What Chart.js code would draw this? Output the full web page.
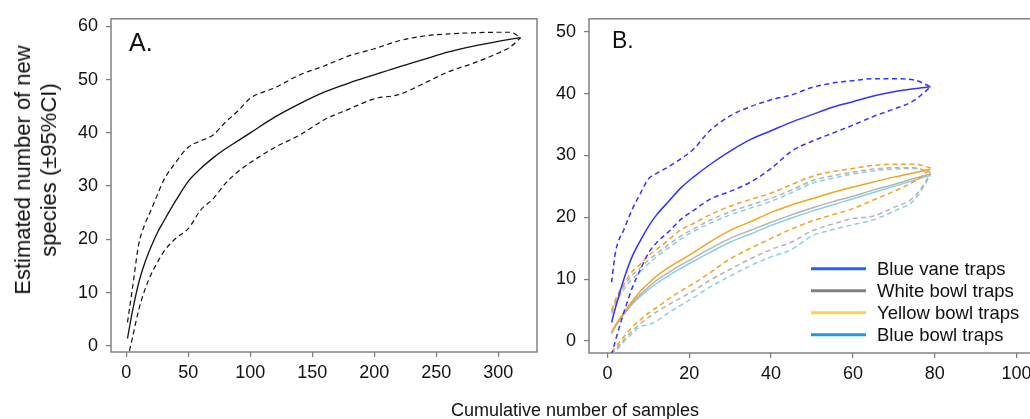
<!DOCTYPE html>
<html>
<head>
<meta charset="utf-8">
<script src="https://cdn.jsdelivr.net/npm/chart.js@4"></script>
<style>
  html, body { margin: 0; padding: 0; background: #fff; overflow: hidden; width: 1030px; height: 419px; }
  #wrap { position: relative; width: 1030px; height: 419px; overflow: hidden; font-family: "Liberation Sans", Arial, sans-serif; color: #111; }
  canvas { position: absolute; top: 0; }
  #cA { left: 0; }
  #cB { left: 545px; }
  .title { position: absolute; white-space: nowrap; transform-origin: center center; }
  #xTitle { left: 575px; top: 410px; font-size: 18px; line-height: 18px; transform: translate(-50%, -50%); }
  #yTitle { left: 36px; top: 170px; font-size: 22px; line-height: 26px; text-align: center; transform: translate(-50%, -50%) rotate(-90deg); }
</style>
</head>
<body>
<div id="wrap">
  <canvas id="cA" width="545" height="419"></canvas>
  <canvas id="cB" width="520" height="419"></canvas>
  <div id="yTitle" class="title">Estimated number of new<br>species (±95%CI)</div>
  <div id="xTitle" class="title">Cumulative number of samples</div>
</div>
<script>
// ---- Panel A: all traps pooled ----
const aSamples = [1, 5, 10, 15, 20, 25, 30, 40, 50, 60, 70, 80, 90, 100, 120, 140, 160, 180, 200, 220, 240, 260, 280, 300, 310, 318];
const aMean  = [1.4, 6.5, 11.8, 15.6, 18.6, 21.2, 23.3, 27.3, 30.9, 33.3, 35.3, 37.0, 38.5, 40.0, 43.0, 45.5, 47.7, 49.4, 50.9, 52.4, 53.8, 55.2, 56.3, 57.2, 57.6, 57.9];
const aUpper = [4.4, 10.8, 19.0, 22.8, 25.5, 28.3, 31.0, 34.5, 37.3, 38.5, 39.6, 42.0, 44.1, 46.5, 48.5, 50.9, 52.6, 54.5, 55.8, 57.3, 58.2, 58.6, 58.8, 58.9, 58.9, 57.9];
const aLower = [-2.5, 1.5, 6.7, 10.5, 13.4, 15.6, 17.6, 20.2, 22.0, 25.5, 27.6, 30.5, 32.7, 34.4, 37.3, 39.6, 42.5, 44.5, 46.4, 47.2, 49.3, 51.5, 53.1, 55.0, 56.2, 57.9];
const aXTicks = [0, 50, 100, 150, 200, 250, 300];
const aYTicks = [0, 10, 20, 30, 40, 50, 60];

// ---- Panel B: by trap type ----
const bSamples = [1, 2, 4, 6, 8, 10, 12, 15, 18, 21, 25, 30, 35, 40, 45, 50, 55, 60, 65, 70, 75, 79];
const vaneMean  = [3.0, 5.5, 10.0, 13.6, 16.2, 18.5, 20.4, 22.6, 24.8, 26.5, 28.5, 30.7, 32.6, 34.0, 35.4, 36.6, 37.8, 38.7, 39.6, 40.3, 40.8, 41.1];
const vaneUpper = [9.5, 14.5, 18.0, 21.2, 23.8, 26.2, 27.1, 28.2, 29.5, 31.0, 34.0, 36.4, 37.9, 39.0, 39.8, 41.0, 41.7, 42.1, 42.4, 42.4, 42.2, 41.1];
const vaneLower = [-2.3, 0.2, 4.6, 8.5, 11.5, 14.2, 15.9, 17.7, 19.7, 21.1, 22.9, 24.2, 25.7, 27.9, 30.7, 32.3, 33.6, 34.9, 36.3, 37.5, 38.9, 41.1];
const yellowMean  = [1.4, 2.6, 4.6, 6.4, 8.0, 9.3, 10.5, 11.9, 13.1, 14.3, 16.0, 17.9, 19.3, 20.8, 22.0, 23.0, 24.0, 24.9, 25.7, 26.5, 27.2, 27.8];
const yellowUpper = [5.0, 6.8, 9.2, 11.2, 12.4, 13.8, 14.8, 16.4, 18.0, 19.0, 20.4, 21.8, 22.9, 23.9, 25.3, 26.6, 27.4, 27.9, 28.4, 28.6, 28.6, 28.0];
const yellowLower = [-1.8, -1.0, 0.7, 2.2, 3.4, 4.5, 5.4, 6.8, 8.1, 9.3, 11.0, 13.3, 15.0, 16.6, 18.1, 19.4, 20.4, 21.4, 22.8, 24.2, 25.8, 27.8];
const whiteMean  = [1.3, 2.5, 4.4, 6.1, 7.5, 8.7, 9.8, 11.1, 12.3, 13.4, 14.9, 16.6, 17.9, 19.2, 20.4, 21.5, 22.5, 23.4, 24.4, 25.3, 26.3, 27.0];
const whiteUpper = [4.7, 6.4, 8.8, 10.6, 11.8, 13.1, 14.1, 15.6, 17.0, 18.1, 19.5, 20.9, 22.0, 23.1, 24.4, 25.9, 26.7, 27.3, 27.8, 28.0, 28.0, 27.3];
const whiteLower = [-2.2, -1.4, 0.2, 1.6, 2.8, 3.8, 4.7, 5.9, 7.0, 8.1, 9.8, 11.6, 13.3, 14.8, 16.0, 17.8, 18.9, 19.8, 20.2, 21.6, 23.3, 27.0];
const blueBowlMean  = [1.2, 2.4, 4.3, 5.9, 7.2, 8.3, 9.3, 10.6, 11.8, 12.9, 14.3, 16.0, 17.3, 18.7, 19.9, 21.0, 22.0, 23.0, 24.0, 25.0, 26.0, 26.8];
const blueBowlUpper = [4.4, 6.0, 8.3, 10.0, 11.2, 12.5, 13.6, 15.1, 16.5, 17.7, 19.0, 20.4, 21.5, 22.6, 24.0, 25.5, 26.3, 27.0, 27.5, 27.8, 27.9, 27.0];
const blueBowlLower = [-2.4, -1.7, -0.1, 1.2, 2.3, 2.6, 3.2, 4.6, 5.8, 7.0, 8.7, 10.5, 12.2, 13.6, 14.8, 17.0, 18.0, 18.8, 19.6, 21.0, 22.8, 26.8];
const bXTicks = [0, 20, 40, 60, 80, 100];
const bYTicks = [0, 10, 20, 30, 40, 50];

const legendLabels = ['Blue vane traps', 'White bowl traps', 'Yellow bowl traps', 'Blue bowl traps'];

// ---- styling ----
const FONT = '"Liberation Sans", Arial, sans-serif';
const AXIS_GREY = '#7a7a7a';
const legendColors = ['#1f62ff', '#808080', '#ffd24d', '#1f9be6'];

const pts = (xs, ys) => xs.map((x, i) => ({ x: x, y: ys[i] }));

function curve(xs, ys, color, dashed, width) {
  return {
    data: pts(xs, ys),
    borderColor: color,
    borderWidth: width,
    borderDash: dashed ? [5, 3.5] : [],
    pointRadius: 0,
    cubicInterpolationMode: 'monotone',
    fill: false
  };
}

function axis(min, max, tickVals, fitSize, isX) {
  return {
    type: 'linear',
    min: min,
    max: max,
    afterBuildTicks: s => { s.ticks = tickVals.map(v => ({ value: v })); },
    afterFit: s => { if (isX) s.height = fitSize; else s.width = fitSize; },
    grid: { display: true, drawOnChartArea: false, drawTicks: true, tickLength: 5, color: AXIS_GREY, lineWidth: 1.2 },
    border: { display: false },
    ticks: { color: '#111', font: { family: FONT, size: 18 }, padding: isX ? 5 : 8, autoSkip: false, maxRotation: 0 }
  };
}

// grey frame around the plotting region
const frame = {
  id: 'frame',
  beforeDatasetsDraw(chart) {
    const a = chart.chartArea, ctx = chart.ctx;
    ctx.save();
    ctx.strokeStyle = AXIS_GREY;
    ctx.lineWidth = 1.4;
    ctx.strokeRect(a.left, a.top, a.right - a.left, a.bottom - a.top);
    ctx.restore();
  }
};

// panel letter in the upper-left corner
const panelLetter = {
  id: 'panelLetter',
  afterDraw(chart, args, opts) {
    const ctx = chart.ctx;
    ctx.save();
    ctx.fillStyle = '#111';
    ctx.font = opts.size + 'px ' + FONT;
    ctx.textBaseline = 'alphabetic';
    ctx.fillText(opts.text, chart.chartArea.left + opts.dx, chart.chartArea.top + opts.dy);
    ctx.restore();
  }
};

// legend drawn inside the plot of panel B
const trapLegend = {
  id: 'trapLegend',
  afterDraw(chart) {
    const ctx = chart.ctx;
    const a = chart.chartArea;
    const x0 = a.left + 222, x1 = a.left + 277, tx = a.left + 288;
    ctx.save();
    ctx.font = '18.5px ' + FONT;
    ctx.textBaseline = 'middle';
    legendLabels.forEach((lab, i) => {
      const y = a.top + 250 + i * 22;
      ctx.strokeStyle = legendColors[i];
      ctx.lineWidth = 3;
      ctx.beginPath();
      ctx.moveTo(x0, y);
      ctx.lineTo(x1, y);
      ctx.stroke();
      ctx.fillStyle = '#111';
      ctx.fillText(lab, tx, y + 1);
    });
    ctx.restore();
  }
};

const baseOptions = {
  responsive: false,
  animation: false,
  devicePixelRatio: 1,
  events: [],
  plugins: { legend: { display: false }, tooltip: { enabled: false } }
};

// Panel A
new Chart(document.getElementById('cA'), {
  type: 'line',
  data: {
    datasets: [
      curve(aSamples, aMean, '#111', false, 1.3),
      curve(aSamples, aUpper, '#111', true, 1.2),
      curve(aSamples, aLower, '#111', true, 1.2)
    ]
  },
  options: Object.assign({}, baseOptions, {
    layout: { padding: { top: 16, right: 8, left: 0, bottom: 0 } },
    scales: {
      x: axis(-12.3, 331.2, aXTicks, 67, true),
      y: axis(-1.17, 61.43, aYTicks, 111, false)
    },
    plugins: Object.assign({}, baseOptions.plugins, {
      panelLetter: { text: 'A.', size: 25, dx: 18, dy: 32 }
    })
  }),
  plugins: [frame, panelLetter]
});

// Panel B
const VANE = '#3333ff', YELLOW = '#f5a31e', WHITE = '#b4b4b4', BLUEBOWL = '#88cfe6';
new Chart(document.getElementById('cB'), {
  type: 'line',
  data: {
    datasets: [
      curve(bSamples, vaneMean, VANE, false, 1.5),
      curve(bSamples, vaneUpper, VANE, true, 1.5),
      curve(bSamples, vaneLower, VANE, true, 1.5),
      curve(bSamples, yellowMean, YELLOW, false, 1.5),
      curve(bSamples, yellowUpper, YELLOW, true, 1.5),
      curve(bSamples, yellowLower, YELLOW, true, 1.5),
      curve(bSamples, whiteMean, WHITE, false, 1.5),
      curve(bSamples, whiteUpper, WHITE, true, 1.5),
      curve(bSamples, whiteLower, WHITE, true, 1.5),
      curve(bSamples, blueBowlMean, BLUEBOWL, false, 1.5),
      curve(bSamples, blueBowlUpper, BLUEBOWL, true, 1.5),
      curve(bSamples, blueBowlLower, BLUEBOWL, true, 1.5)
    ]
  },
  options: Object.assign({}, baseOptions, {
    layout: { padding: { top: 18, right: 20, left: 0, bottom: 0 } },
    scales: {
      x: axis(-4.52, 106.97, bXTicks, 66, true),
      y: axis(-1.94, 52.1, bYTicks, 44, false)
    },
    plugins: Object.assign({}, baseOptions.plugins, {
      panelLetter: { text: 'B.', size: 23, dx: 23, dy: 29 }
    })
  }),
  plugins: [frame, panelLetter, trapLegend]
});
</script>
</body>
</html>
